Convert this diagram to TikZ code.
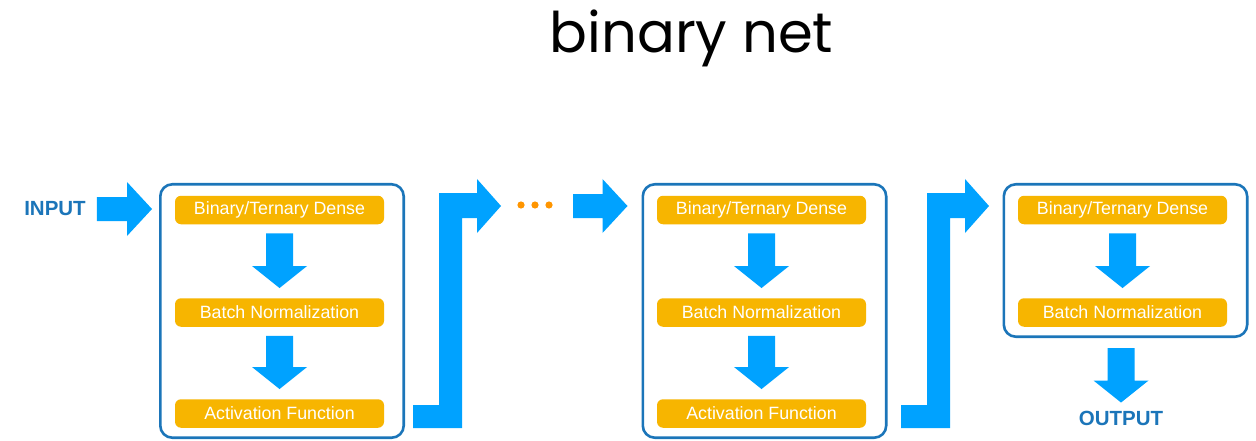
\documentclass[tikz,border=0pt]{standalone}
\usepackage{fontspec}
\setmainfont{Liberation Sans}
\newfontfamily\titlefont{Poppins}
\usetikzlibrary{calc}
\definecolor{arrowblue}{HTML}{00A2FF}
\definecolor{frameblue}{HTML}{1B75B9}
\definecolor{layerorange}{HTML}{F7B500}
\definecolor{dotorange}{HTML}{FF9500}
\definecolor{labelblue}{HTML}{1B75B9}
\newcommand{\blockdown}[2]{%
  \fill[flow] ($(#1)+(-13.5,0)$) -- ($(#1)+(13.5,0)$) -- ($(#2)+(13.5,-22)$) -- ($(#2)+(27.5,-22)$) -- (#2) -- ($(#2)+(-27.5,-22)$) -- ($(#2)+(-13.5,-22)$) -- cycle;}
\newcommand{\blockright}[2]{%
  \fill[flow] ($(#1)+(0,-12)$) -- ($(#2)+(-25,-12)$) -- ($(#2)+(-25,-27)$) -- (#2) -- ($(#2)+(-25,27)$) -- ($(#2)+(-25,12)$) -- ($(#1)+(0,12)$) -- cycle;}
\newcommand{\blockbent}[2]{% #1 start of bottom bar (left, centre), #2 tip
  \fill[flow] ($(#1)+(0,-11.5)$) -- ($(#1)+(26,-11.5)$) |- ($(#2)+(-24,-13)$) -- ($(#2)+(-24,-27)$) -- (#2) -- ($(#2)+(-24,27)$) -- ($(#2)+(-24,12)$) -| ($(#1)+(49,11.5)$) -- ($(#1)+(0,11.5)$) -- cycle;}
\begin{document}
\begin{tikzpicture}[x=1pt,y=-1pt,
  frame/.style={draw=frameblue, line width=2.6pt, rounded corners=12pt, fill=white, minimum width=243.4pt, inner sep=0pt},
  layer/.style={fill=layerorange, rounded corners=6pt, minimum width=209pt, minimum height=28.5pt, inner sep=0pt, text=white, font=\fontsize{17.8}{20}\selectfont},
  ioLabel/.style={text=labelblue, font=\bfseries\fontsize{20.5}{24}\selectfont, inner sep=0pt},
  flow/.style={fill=arrowblue}]
\useasboundingbox (0,0) rectangle (1256,441);

\node[font=\titlefont\fontsize{56}{60}\selectfont, anchor=base, inner sep=0pt] (title) at (691.5,53) {binary net};

% frames
\node[frame, minimum height=253.4pt] (f1) at (282,311) {};
\node[frame, minimum height=253.4pt] (f2) at (764.5,311) {};
\node[frame, minimum height=152.4pt] (f3) at (1125.5,260.5) {};

% layers
\node[layer] (d1) at (279.5,210) {Binary/Ternary Dense};
\node[layer] (n1) at (279.5,312.5) {Batch Normalization};
\node[layer] (a1) at (279.5,413.5) {Activation Function};
\node[layer] (d2) at (761.5,210) {Binary/Ternary Dense};
\node[layer] (n2) at (761.5,312.5) {Batch Normalization};
\node[layer] (a2) at (761.5,413.5) {Activation Function};
\node[layer] (d3) at (1122.5,210) {Binary/Ternary Dense};
\node[layer] (n3) at (1122.5,312.5) {Batch Normalization};

% labels
\node[ioLabel] (in) at (55,208.5) {INPUT};
\node[ioLabel] (out) at (1121,418) {OUTPUT};

% down arrows
\blockdown{$(d1.south)+(0,9)$}{$(n1.north)+(0,-10)$}
\blockdown{$(n1.south)+(0,9)$}{$(a1.north)+(0,-10)$}
\blockdown{$(d2.south)+(0,9)$}{$(n2.north)+(0,-10)$}
\blockdown{$(n2.south)+(0,9)$}{$(a2.north)+(0,-10)$}
\blockdown{$(d3.south)+(0,9)$}{$(n3.north)+(0,-10)$}
\blockdown{$(out.north |- f3.south)+(0,10)$}{$(out.north)+(0,-8)$}

% right arrows
\blockright{$(in.east)+(11,0.5)$}{$(f1.west)+(-7,-102)$}
\coordinate (dotsR) at (573,206);
\blockright{dotsR}{$(f2.west)+(-14,-105)$}

% bent arrows
\coordinate (b1) at (413,416.5);
\coordinate (b2) at (901,416.5);
\coordinate (t1) at (501,206);
\coordinate (t2) at (989,206);
\blockbent{b1}{t1}
\blockbent{b2}{t2}

% dots
\foreach \x in {521,535,549} \fill[dotorange] (\x,205) circle (3.6);
\end{tikzpicture}
\end{document}
